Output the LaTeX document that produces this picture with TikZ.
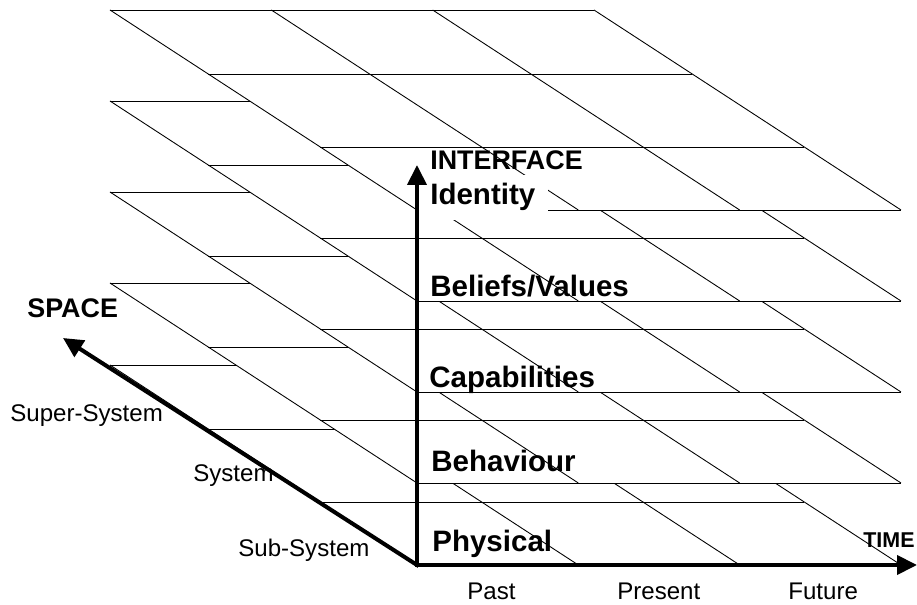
\documentclass[tikz,border=0pt]{standalone}
\usepackage{fontspec}
\setmainfont{Liberation Sans}
\usetikzlibrary{arrows.meta}

\begin{document}
\begin{tikzpicture}[x=0.02cm, y=0.02cm,
	grid line/.style={line width=0.5pt},
	axis/.style={line width=2.3pt, line cap=rect, -{Triangle[length=0.4cm, width=0.38cm]}},
	levelname/.style={anchor=base west, inner sep=0pt, font=\fontsize{16.8}{18}\selectfont\bfseries},
	axisname/.style={anchor=base west, inner sep=0pt, font=\fontsize{15.3}{17}\selectfont\bfseries},
	tick/.style={anchor=base west, inner sep=0pt, font=\fontsize{13.7}{15}\selectfont}]

	\useasboundingbox (-417,-40) rectangle (500,565);

	% Stacked layers, lowest first so each upper one hides the one below
	\foreach \base in {0,82,173,264,355} {
		\begin{scope}[shift={(0,\base)}, xslant=-1.535]
			\fill[white] (0,0) -- (484,0) -- (484,200) -- (0,200) -- cycle;
			\foreach \row in {0,63,136,200}
				\draw[grid line] (0,\row) -- (484,\row);
			\foreach \col in {0,161.33,322.67,484}
				\draw[grid line] (\col,0) -- (\col,200);
		\end{scope}
	}

	% Level names
	\node [axisname] (interface) at (13,395) {INTERFACE};
	\node [levelname, fill=white, inner xsep=0.26cm, inner ysep=0.18cm] (identity) at (0,360) {Identity};
	\node [levelname] (beliefs) at (13,268) {Beliefs/Values};
	\node [levelname] (capabilities) at (12,177) {Capabilities};
	\node [levelname] (behaviour) at (14,93) {Behaviour};
	\node [levelname] (physical) at (15,13) {Physical};

	% Space and time
	\node [axisname, font=\fontsize{12.2}{14}\selectfont\bfseries] (time) at (446,17) {TIME};
	\node [axisname] (space) at (-390,247) {SPACE};
	\node [tick] (supersys) at (-407,143) {Super-System};
	\node [tick] (sys) at (-224,83) {System};
	\node [tick] (subsys) at (-179,8) {Sub-System};
	\node [tick] (past) at (50,-35) {Past};
	\node [tick] (present) at (200,-35) {Present};
	\node [tick] (future) at (371,-35) {Future};

	% Axes
	\coordinate (origin) at (0,0);
	\coordinate (ifaceend) at (0,400);
	\coordinate (timeend) at (500,0);
	\coordinate (spaceend) at (-354,227);
	\draw [axis] (origin) -- (ifaceend);
	\draw [axis] (origin) -- (timeend);
	\draw [axis] (origin) -- (spaceend);
\end{tikzpicture}
\end{document}
